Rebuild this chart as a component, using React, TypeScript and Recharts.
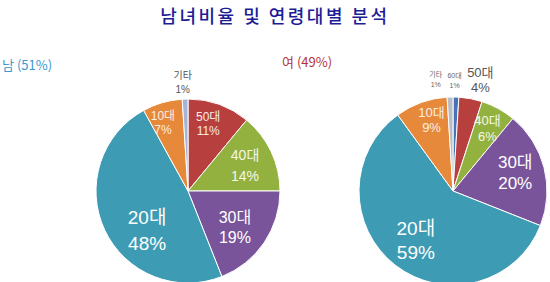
import { PieChart, Pie, Cell } from "recharts"

const TITLE = "남녀비율 및 연령대별 분석"
const genders = ["남", "여"]
const genderShares = [51, 49]

const maleAges = ["50대", "40대", "30대", "20대", "10대", "기타"]
const maleShares = [11, 14, 19, 48, 7, 1]

const femaleAges = ["60대", "50대", "40대", "30대", "20대", "10대", "기타"]
const femaleShares = [1, 4, 6, 20, 59, 9, 1]

const AGE_COLORS: Record<string, string> = {
  "60대": "#4873b8",
  "50대": "#b7403f",
  "40대": "#93b13f",
  "30대": "#79549a",
  "20대": "#3e9bb4",
  "10대": "#e6893a",
  기타: "#a3b4d8",
}

type LabelStyle = { r: number; shift: number; size: number; gap: number; color: string }

// label placement per slice (radius fraction, angle shift in degrees)
const maleLabelStyles: LabelStyle[] = [
  { r: 0.76, shift: 3, size: 12, gap: 14, color: "#f7e9e6" },
  { r: 0.68, shift: -1, size: 14, gap: 21, color: "#f4f8ea" },
  { r: 0.65, shift: -4, size: 16, gap: 20, color: "#ffffff" },
  { r: 0.62, shift: 19, size: 19, gap: 26, color: "#ffffff" },
  { r: 0.79, shift: 4, size: 12, gap: 14, color: "#fbeee2" },
  { r: 1.18, shift: 1, size: 10, gap: 14, color: "#555555" },
]

const femaleLabelStyles: LabelStyle[] = [
  { r: 1.18, shift: 1, size: 7, gap: 10, color: "#666666" },
  { r: 1.22, shift: -3, size: 13, gap: 15, color: "#555555" },
  { r: 0.76, shift: 0, size: 13, gap: 16, color: "#f4f8ea" },
  { r: 0.69, shift: 2, size: 17, gap: 21, color: "#ffffff" },
  { r: 0.66, shift: 1, size: 19, gap: 24, color: "#ffffff" },
  { r: 0.79, shift: -3, size: 13, gap: 15, color: "#fbeee2" },
  { r: 1.2, shift: 7, size: 7, gap: 10, color: "#666666" },
]

const RADIAN = Math.PI / 180
const FONT = "'Noto Sans CJK KR', 'Noto Sans', sans-serif"
const LABEL_FONT = "'Liberation Sans', 'Noto Sans CJK KR', sans-serif"

function makeLabel(styles: LabelStyle[]) {
  return (props: any) => {
    const { cx, cy, midAngle, outerRadius, index, payload } = props
    const s = styles[index]
    const a = (midAngle + s.shift) * RADIAN
    const x = cx + outerRadius * s.r * Math.cos(-a)
    const y = cy + outerRadius * s.r * Math.sin(-a)
    return (
      <g>
        <text x={x} y={y - s.gap / 2} textAnchor="middle" dominantBaseline="central" fill={s.color} fontSize={s.size} fontFamily={LABEL_FONT}>
          {payload.name}
        </text>
        <text x={x} y={y + s.gap / 2} textAnchor="middle" dominantBaseline="central" fill={s.color} fontSize={s.size} fontFamily={LABEL_FONT}>
          {payload.value}%
        </text>
      </g>
    )
  }
}

const maleData = maleAges.map((name, i) => ({ name, value: maleShares[i] }))
const femaleData = femaleAges.map((name, i) => ({ name, value: femaleShares[i] }))

export default function App() {
  return (
    <div
      style={{
        position: "absolute",
        left: 0,
        top: 0,
        width: 550,
        height: 282,
        background: "#fff",
        fontFamily: FONT,
      }}
    >
      <div
        style={{
          position: "absolute",
          top: 2,
          left: 0,
          width: 550,
          textAlign: "center",
          fontSize: 18,
          fontWeight: 500,
          letterSpacing: 2.5,
          color: "#1c1c96",
          lineHeight: "26px",
        }}
      >
        {TITLE}
      </div>
      <div style={{ position: "absolute", left: 2, top: 55, fontSize: 13, color: "#3a98cf", lineHeight: "20px" }}>
        {genders[0]} ({genderShares[0]}%)
      </div>
      <div style={{ position: "absolute", left: 282, top: 52, fontSize: 13, color: "#b5313a", lineHeight: "20px" }}>
        {genders[1]} ({genderShares[1]}%)
      </div>
      <PieChart width={550} height={282} style={{ position: "absolute", left: 0, top: 0 }}>
        <Pie
          data={maleData}
          dataKey="value"
          nameKey="name"
          cx={183}
          cy={186}
          outerRadius={92}
          startAngle={90}
          endAngle={-270}
          stroke="#ffffff"
          strokeWidth={1}
          label={makeLabel(maleLabelStyles)}
          labelLine={false}
          isAnimationActive={false}
        >
          {maleData.map((d) => (
            <Cell key={d.name} fill={AGE_COLORS[d.name]} />
          ))}
        </Pie>
        <Pie
          data={femaleData}
          dataKey="value"
          nameKey="name"
          cx={448}
          cy={186}
          outerRadius={94}
          startAngle={90}
          endAngle={-270}
          stroke="#ffffff"
          strokeWidth={1}
          label={makeLabel(femaleLabelStyles)}
          labelLine={false}
          isAnimationActive={false}
        >
          {femaleData.map((d) => (
            <Cell key={d.name} fill={d.name === "기타" ? "#b9bcc4" : AGE_COLORS[d.name]} />
          ))}
        </Pie>
      </PieChart>
    </div>
  )
}
